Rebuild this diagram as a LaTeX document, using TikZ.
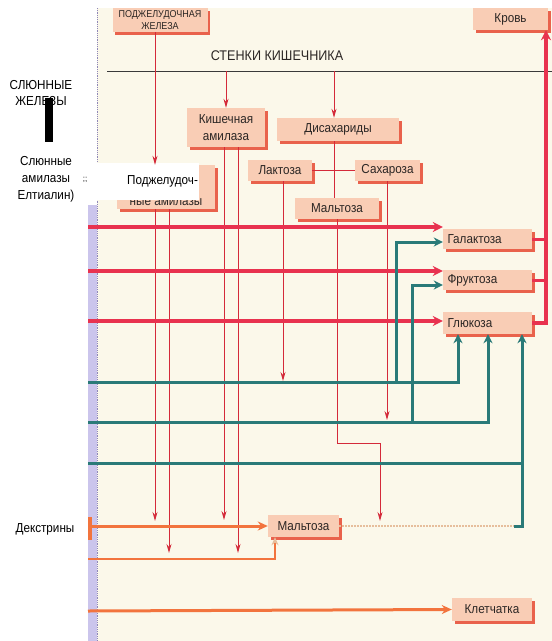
\documentclass[tikz,border=0pt]{standalone}
\usepackage{fontspec}
\setmainfont{Liberation Sans}
\newfontfamily\condfont[FakeStretch=0.9]{Liberation Sans}
\newfontfamily\narrowfont[FakeStretch=0.9]{Liberation Sans}
\usepackage{xcolor}
\definecolor{cPaper}{HTML}{FBF8EA}
\definecolor{cStrip}{HTML}{CBC5EC}
\definecolor{cFrame}{HTML}{8E86B8}
\definecolor{cBox}{HTML}{F9CDB5}
\definecolor{cShade}{HTML}{E9624C}
\definecolor{cText}{HTML}{2B2624}
\definecolor{cRed}{HTML}{E8324F}
\definecolor{cThin}{HTML}{D42A3A}
\definecolor{cTeal}{HTML}{2A7A78}
\definecolor{cOrange}{HTML}{F2743E}
\definecolor{cTan}{HTML}{E6BE9C}
\definecolor{cWall}{HTML}{3A3A3A}
\usepackage{tikz}
\usetikzlibrary{positioning,arrows.meta,shadows}
\tikzset{
  node-box/.style={fill=cBox,inner sep=2pt,align=center,text=cText,
    font=\condfont\fontsize{13}{15}\selectfont,
    drop shadow={shadow xshift=2.5pt,shadow yshift=-2.5pt,fill=cShade,opacity=1}},
  node-sugar/.style={node-box,minimum width=89pt,text width=80pt,align=left},
  node-note/.style={align=center,text=black,font=\narrowfont\fontsize{13}{16}\selectfont},
  % толстые стрелки: красные (всасывание), бирюзовые (глюкоза), оранжевые
  arrow-red/.style={-{Stealth[length=10pt,width=10pt]},line width=3.5pt,draw=cRed},
  link-red/.style={line width=3pt,draw=cRed},
  arrow-teal/.style={-{Stealth[length=9pt,width=9pt]},line width=3pt,draw=cTeal},
  link-teal/.style={line width=3pt,draw=cTeal},
  arrow-thin/.style={-{Stealth[length=9pt,width=5pt]},line width=1pt,draw=cThin},
  link-thin/.style={line width=1pt,draw=cThin},
  arrow-orange/.style={-{Stealth[length=10pt,width=9pt]},line width=3pt,draw=cOrange},
  arrow-tan/.style={-{Stealth[length=8pt,width=7pt,color=cTan]},line width=2.5pt,draw=cOrange},
  link-tan/.style={line width=2pt,draw=cTan,dash pattern=on 2pt off 1pt},
  wall/.style={thin,draw=cWall},
}
\begin{document}
\begin{tikzpicture}[x=1pt,y=-1pt]
  \fill[white] (0,0) rectangle (552,641);
  \useasboundingbox (0,0) rectangle (552,641);
  \fill[cPaper] (97,8) rectangle (552,641);
  \fill[cStrip] (88,205) rectangle (97,641);
  \draw[cFrame,densely dotted,thick] (97,8) -- (97,641);

  % стенка кишечника
  \coordinate (wallL) at (107,71);
  \coordinate (wallR) at (552,71);
  \draw[wall] (wallL) -- (wallR);
  \node[font=\condfont\fontsize{14}{16}\selectfont,text=cText] (wall) at (277,56) {СТЕНКИ КИШЕЧНИКА};

  % блоки
  \node[node-box,minimum width=95pt,minimum height=24pt,
    font=\condfont\fontsize{10}{11.5}\selectfont] (pancreas) at (160,20) {ПОДЖЕЛУДОЧНАЯ\\ЖЕЛЕЗА};
  \node[node-box,minimum width=75pt,minimum height=22pt] (krov) at (510.5,19) {Кровь};
  \node[node-box,minimum width=78pt,minimum height=39pt,
    font=\condfont\fontsize{13}{17.5}\selectfont] (kamyl) at (226,127.5) {Кишечная\\амилаза};
  \node[node-box,minimum width=122pt,minimum height=23pt] (disach) at (338,129.5) {Дисахариды};
  \node[node-box,minimum width=64pt,minimum height=21pt] (lakt) at (280,170.5) {Лактоза};
  \node[node-box,minimum width=65pt,minimum height=21pt] (sachar) at (387.5,170.5) {Сахароза};
  \node[node-box,minimum width=84pt,minimum height=21pt] (malt1) at (337,208.5) {Мальтоза};
  \node[node-box,minimum width=98pt,minimum height=44pt] (pamyl) at (166,187) {};
  \node[font=\condfont\fontsize{13}{15}\selectfont,text=cText] (pamyl-txt) at (166,202) {ные амилазы};
  \node[node-sugar,minimum height=20pt] (galakt) at (487.5,239) {Галактоза};
  \node[node-sugar,minimum height=20pt] (frukt) at (487.5,280) {Фруктоза};
  \node[node-sugar,minimum height=22pt] (gluk) at (487.5,323) {Глюкоза};
  \node[node-box,minimum width=71pt,minimum height=22pt,
    font=\narrowfont\fontsize{13}{15}\selectfont] (malt2) at (303.5,526) {Мальтоза};
  \node[node-box,minimum width=80pt,minimum height=23pt] (kletch) at (492,609.5) {Клетчатка};

  % подписи слева
  \node[node-note] (saliv) at (41,93.5) {СЛЮННЫЕ\\ЖЕЛЕЗЫ};
  \node[fill=black,inner sep=0pt,minimum width=8pt,minimum height=44pt] (bar) at (49,120) {};
  \node[node-note,font=\narrowfont\fontsize{13}{17}\selectfont] (salamyl) at (46,179) {Слюнные\\амилазы\\Елтиалин)};
  \node[font=\fontsize{8}{9}\selectfont] (semi) at (85,180) {;;};
  \node[fill=white,inner sep=1pt,minimum height=37pt,text width=106pt,align=right,
    font=\narrowfont\fontsize{13}{15}\selectfont] (cover) at (145,181.5) {Поджелудоч-};
  \node[node-note] (dextr) at (45,529) {Декстрины};
  \node[fill=cOrange,inner sep=0pt,minimum width=4pt,minimum height=23pt] (dexbar) at (90,528.5) {};

  % входы слева
  \foreach \name/\y in {r1/227, r2/271, r3/321, t1/382, t2/422, t3/463, o1/526, o2/559, o3/611}
    \coordinate (\name) at (88,\y);
  \foreach \name/\x in {colA/155, colB/169, colC/224, colD/238, colM/334, colR/546,
    colT1/458, colT2/488, colT3/522, colO/275}
    \coordinate (\name) at (\x,0);

  % тонкие красные
  \draw[arrow-thin] (kamyl.north |- wallL) -- (kamyl.north);
  \draw[arrow-thin] (colM |- wallL) -- (disach.north -| colM);
  \draw[arrow-thin] (pancreas.south -| colA) -- (pamyl.north -| colA);
  \draw[link-thin] (disach.south -| colM) -- (malt1.north -| colM);
  \draw[link-thin] (lakt.east) -- (sachar.west);
  \foreach \bx/\x/\y in {pamyl/155/521, pamyl/169/553, kamyl/224/520, kamyl/238/553,
    lakt/283/381, sachar/387/420} {
    \coordinate (top) at (\x,0);
    \coordinate (end-\bx-\x) at (\x,\y);
    \draw[arrow-thin] (\bx.south -| top) -- (end-\bx-\x);
  }
  \coordinate (turnM) at (380,443);
  \coordinate (tipM) at (380,521);
  \draw[arrow-thin] (malt1.south) |- (turnM) -- (tipM);

  % красные толстые
  \foreach \n/\tgt in {r1/galakt, r2/frukt, r3/gluk}
    \draw[arrow-red] (\n) -- (\n -| \tgt.west);
  \draw[link-red] (galakt.east) -- (galakt.east -| colR);
  \draw[link-red] (frukt.east) -- (frukt.east -| colR);
  \draw[arrow-red] (gluk.east) -| (krov.south -| colR);

  % бирюзовые
  \coordinate (bT1) at (396,382);
  \coordinate (bT2) at (412,422);
  \coordinate (joinL) at (514,526);
  \draw[arrow-teal] (t1) -| (gluk.south -| colT1);
  \draw[arrow-teal] (bT1) |- ([yshift=-3pt]galakt.west);
  \draw[arrow-teal] (t2) -| (gluk.south -| colT2);
  \draw[arrow-teal] (bT2) |- ([yshift=-5pt]frukt.west);
  \draw[link-teal] (t3) -- (t3 -| colT3);
  \draw[link-tan] (malt2.east) -- (joinL);
  \draw[arrow-teal] (joinL) -| (gluk.south -| colT3);

  % оранжевые
  \draw[arrow-orange] (o1) -- (malt2.west);
  \draw[arrow-tan] (o2) -| (malt2.south -| colO);
  \draw[arrow-orange] (o3) -- (kletch.west);
\end{tikzpicture}
\end{document}
